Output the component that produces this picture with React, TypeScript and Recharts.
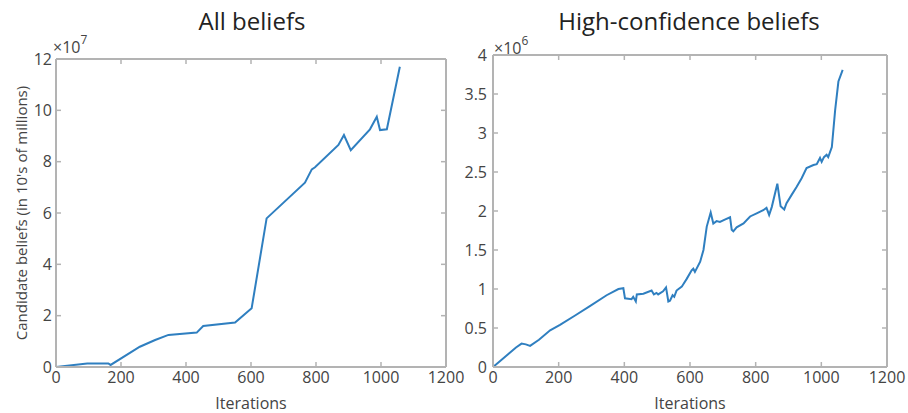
import React from 'react';
import { LineChart, Line, XAxis, YAxis, Label } from 'recharts';

// All beliefs (values in units of 10^7)
const allIter = [0, 96, 161, 168, 258, 305, 346, 433, 453, 551, 602, 648, 766, 787, 797, 869, 886, 907, 966, 987, 997, 1018, 1058];
const allVals = [0, 0.14, 0.14, 0.08, 0.79, 1.05, 1.25, 1.34, 1.6, 1.73, 2.29, 5.79, 7.18, 7.7, 7.78, 8.65, 9.04, 8.45, 9.26, 9.75, 9.23, 9.26, 11.7];

// High-confidence beliefs (values in units of 10^6)
const hiIter = [0, 20, 45, 70, 87, 100, 113, 140, 174, 204, 250, 295, 346, 382, 397, 402, 422, 427, 435, 438, 458, 483, 490, 498, 503, 518, 527, 534, 539, 547, 552, 559, 575, 590, 605, 610, 615, 631, 641, 651, 663, 671, 681, 691, 706, 722, 727, 732, 742, 763, 783, 803, 823, 833, 841, 849, 866, 876, 887, 894, 910, 925, 940, 955, 976, 986, 996, 1001, 1008, 1016, 1021, 1032, 1042, 1052, 1065];
const hiVals = [0, 0.07, 0.16, 0.25, 0.3, 0.29, 0.27, 0.35, 0.47, 0.54, 0.66, 0.78, 0.92, 1.0, 1.01, 0.88, 0.87, 0.9, 0.84, 0.93, 0.94, 0.98, 0.93, 0.95, 0.93, 0.97, 1.02, 0.84, 0.85, 0.92, 0.9, 0.98, 1.03, 1.13, 1.24, 1.26, 1.22, 1.35, 1.5, 1.8, 1.98, 1.84, 1.87, 1.86, 1.89, 1.92, 1.76, 1.74, 1.79, 1.84, 1.93, 1.97, 2.01, 2.04, 1.95, 2.05, 2.35, 2.06, 2.02, 2.1, 2.21, 2.31, 2.42, 2.55, 2.59, 2.6, 2.68, 2.63, 2.69, 2.72, 2.69, 2.82, 3.29, 3.66, 3.81];

const xTicks = [0, 200, 400, 600, 800, 1000, 1200];
const allYTicks = [0, 2, 4, 6, 8, 10, 12];
const hiYTicks = [0, 0.5, 1, 1.5, 2, 2.5, 3, 3.5, 4];

const allData = allIter.map((x, i) => ({ x, y: allVals[i] }));
const hiData = hiIter.map((x, i) => ({ x, y: hiVals[i] }));

const FONT = "'Open Sans', sans-serif";
const FRAME = '#b3b3b3';
const TEXT = '#444';
const LINE = '#2f7fc0';

const tickStyle = { fontSize: 16, fill: TEXT, fontFamily: FONT };
const empty = () => '';

function Panel(props: {
  data: { x: number; y: number }[];
  width: number;
  top: number;
  right: number;
  yWidth: number;
  yTicks: number[];
  yMax: number;
  yMargin: number;
  yLabel?: string;
}) {
  const { data, width, top, right, yWidth, yTicks, yMax, yMargin, yLabel } = props;
  const axisLine = { stroke: FRAME, strokeWidth: 2 };
  const tickLine = { stroke: FRAME, strokeWidth: 1.5 };
  return (
    <LineChart width={width} height={413} data={data} margin={{ top: top - 1, right: right - 1, bottom: 0, left: 0 }}>
      <XAxis
        dataKey="x"
        type="number"
        domain={[0, 1200]}
        ticks={xTicks}
        interval={0}
        height={46}
        axisLine={axisLine}
        tickLine={tickLine}
        tickSize={-5}
        tickMargin={10}
        tick={tickStyle}
        allowDataOverflow
      >
        <Label
          value="Iterations"
          position="insideBottom"
          offset={4}
          style={{ fontSize: 16, fill: TEXT, fontFamily: FONT }}
        />
      </XAxis>
      <XAxis
        xAxisId="top"
        dataKey="x"
        orientation="top"
        type="number"
        domain={[0, 1200]}
        ticks={xTicks}
        interval={0}
        height={1}
        axisLine={axisLine}
        tickLine={tickLine}
        tickSize={-5}
        tickFormatter={empty}
        allowDataOverflow
      />
      <YAxis
        type="number"
        domain={[0, yMax]}
        ticks={yTicks}
        interval={0}
        width={yWidth}
        axisLine={axisLine}
        tickLine={tickLine}
        tickSize={-5}
        tickMargin={yMargin}
        tick={tickStyle}
        allowDataOverflow
      >
        {yLabel ? (
          <Label
            content={(p: any) => {
              const vb = p.viewBox || {};
              const cy = (vb.y || 0) + (vb.height || 0) / 2;
              return (
                <text
                  x={21}
                  y={cy}
                  transform={`rotate(-90, 21, ${cy})`}
                  textAnchor="middle"
                  dominantBaseline="central"
                  style={{ fontSize: 15, fill: TEXT, fontFamily: FONT }}
                >
                  {yLabel}
                </text>
              );
            }}
          />
        ) : null}
      </YAxis>
      <YAxis
        yAxisId="right"
        orientation="right"
        type="number"
        domain={[0, yMax]}
        ticks={yTicks}
        interval={0}
        width={1}
        axisLine={axisLine}
        tickLine={tickLine}
        tickSize={-5}
        tickFormatter={empty}
        allowDataOverflow
      />
      <Line
        xAxisId="top"
        yAxisId="right"
        type="linear"
        dataKey="y"
        stroke="none"
        strokeWidth={0}
        dot={false}
        activeDot={false}
        isAnimationActive={false}
      />
      <Line
        type="linear"
        dataKey="y"
        stroke={LINE}
        strokeWidth={2}
        dot={false}
        isAnimationActive={false}
      />
    </LineChart>
  );
}

export default function App() {
  return (
    <div style={{ position: 'absolute', left: 0, top: 0, width: 908, height: 413, background: '#fff', overflow: 'hidden' }}>
      <div style={{ position: 'absolute', left: 0, top: 0 }}>
        <Panel
          data={allData}
          width={480}
          top={59}
          right={34}
          yWidth={56}
          yTicks={allYTicks}
          yMax={12}
          yMargin={9}
          yLabel="Candidate beliefs (in 10's of millions)"
        />
      </div>
      <div style={{ position: 'absolute', left: 454, top: 0 }}>
        <Panel
          data={hiData}
          width={454}
          top={55}
          right={21}
          yWidth={39}
          yTicks={hiYTicks}
          yMax={4}
          yMargin={11}
        />
      </div>
      <svg width={908} height={413} style={{ position: 'absolute', left: 0, top: 0, pointerEvents: 'none' }}>
        <text x={252} y={30} textAnchor="middle" style={{ fontSize: 24, fill: '#222', fontFamily: FONT }}>
          All beliefs
        </text>
        <text x={689} y={30} textAnchor="middle" style={{ fontSize: 24, fill: '#222', fontFamily: FONT }}>
          High-confidence beliefs
        </text>
        <text x={53} y={53} style={{ fontSize: 16, fill: TEXT, fontFamily: FONT }}>
          ×10<tspan dy={-9} style={{ fontSize: 12 }}>7</tspan>
        </text>
        <text x={494} y={54} style={{ fontSize: 16, fill: TEXT, fontFamily: FONT }}>
          ×10<tspan dy={-9} style={{ fontSize: 12 }}>6</tspan>
        </text>
      </svg>
    </div>
  );
}
